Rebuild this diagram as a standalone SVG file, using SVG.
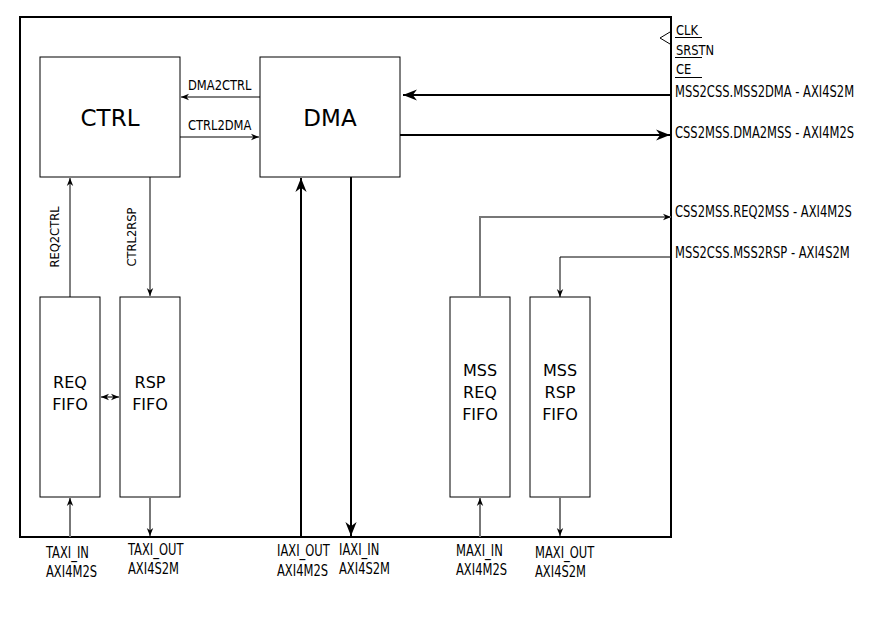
<svg xmlns="http://www.w3.org/2000/svg" width="886" height="638" viewBox="0 0 886 638">
<style>
.box{fill:#fff;stroke:#000;stroke-width:1}
.lbl{font-family:"DejaVu Sans Condensed","DejaVu Sans",sans-serif;font-size:12.8px;fill:#000}
.big{font-family:"DejaVu Sans",sans-serif;font-size:23px;fill:#000;text-anchor:middle}
.mid{font-family:"DejaVu Sans",sans-serif;font-size:16px;fill:#000;text-anchor:middle}
.thin{stroke:#000;stroke-width:1;fill:none}
.gray{stroke:#777;stroke-width:2;fill:none}
.thick{stroke:#000;stroke-width:2;fill:none}
</style>
<defs>
<marker id="a" viewBox="0 0 10 10" refX="10" refY="5" markerWidth="8" markerHeight="8" markerUnits="userSpaceOnUse" orient="auto-start-reverse"><path d="M0,1 L10,5 L0,9 L3,5 z" fill="#000"/></marker>
<marker id="b" viewBox="0 0 10 10" refX="10" refY="5" markerWidth="14" markerHeight="14" markerUnits="userSpaceOnUse" orient="auto-start-reverse"><path d="M0,1 L10,5 L0,9 L3,5 z" fill="#000"/></marker>
</defs>
<rect width="886" height="638" fill="#fff"/>
<g id="frame"><rect x="20" y="17" width="651" height="520" fill="none" stroke="#000" stroke-width="2"/></g>
<g id="ctrl"><rect class="box" x="40" y="57" width="140" height="120"/><text class="big" x="110" y="126">CTRL</text></g>
<g id="dma"><rect class="box" x="260" y="57" width="140" height="120"/><text class="big" x="330" y="126">DMA</text></g>
<g id="reqfifo"><rect class="box" x="40" y="297" width="60" height="200"/><text class="mid" x="70" y="388">REQ</text><text class="mid" x="70" y="410">FIFO</text></g>
<g id="rspfifo"><rect class="box" x="120" y="297" width="60" height="200"/><text class="mid" x="150" y="388">RSP</text><text class="mid" x="150" y="410">FIFO</text></g>
<g id="mssreqfifo"><rect class="box" x="450" y="297" width="60" height="200"/><text class="mid" x="480" y="376">MSS</text><text class="mid" x="480" y="398">REQ</text><text class="mid" x="480" y="420">FIFO</text></g>
<g id="mssrspfifo"><rect class="box" x="530" y="297" width="60" height="200"/><text class="mid" x="560" y="376">MSS</text><text class="mid" x="560" y="398">RSP</text><text class="mid" x="560" y="420">FIFO</text></g>
<g id="connectors">
<line class="thin" x1="260" y1="97" x2="181" y2="97" marker-end="url(#a)"/>
<line class="thin" x1="180" y1="137" x2="259" y2="137" marker-end="url(#a)"/>
<line class="thick" x1="671" y1="95" x2="403" y2="95" marker-end="url(#b)"/>
<line class="thick" x1="400" y1="135" x2="670" y2="135" marker-end="url(#b)"/>
<polyline class="gray" points="480,297 480,217 671,217" stroke-width="1" marker-end="url(#a)"/>
<polyline class="thin" points="671,257 560,257 560,297" marker-end="url(#a)"/>
<line class="thin" x1="70" y1="297" x2="70" y2="178" marker-end="url(#a)"/>
<line class="thin" x1="150" y1="177" x2="150" y2="296" marker-end="url(#a)"/>
<line class="gray" x1="101" y1="397" x2="119" y2="397" stroke-width="1" marker-start="url(#a)" marker-end="url(#a)"/>
<line class="gray" x1="70" y1="537" x2="70" y2="498" marker-end="url(#a)"/>
<line class="gray" x1="150" y1="497" x2="150" y2="536" marker-end="url(#a)"/>
<line class="thick" x1="301" y1="537" x2="301" y2="178" marker-end="url(#b)"/>
<line class="thick" x1="351" y1="177" x2="351" y2="536" marker-end="url(#b)"/>
<line class="gray" x1="480" y1="537" x2="480" y2="498" marker-end="url(#a)"/>
<line class="gray" x1="560" y1="497" x2="560" y2="536" marker-end="url(#a)"/>
<polyline class="thin" points="670,32 660,38 670,44"/>
<line class="thin" x1="675" y1="37.5" x2="702" y2="37.5" stroke="#555"/>
<line class="thin" x1="675" y1="57.5" x2="702" y2="57.5" stroke="#555"/>
<line class="thin" x1="675" y1="77.5" x2="702" y2="77.5" stroke="#555"/>
</g>
<g id="labels">
<text class="lbl" transform="translate(188,90) scale(1,1.1)">DMA2CTRL</text>
<text class="lbl" transform="translate(188,130) scale(1,1.1)">CTRL2DMA</text>
<text class="lbl" transform="translate(59,237) rotate(-90)" text-anchor="middle">REQ2CTRL</text>
<text class="lbl" transform="translate(136,237) rotate(-90)" text-anchor="middle">CTRL2RSP</text>
<text class="lbl" transform="translate(676,35) scale(1,1.1)">CLK</text>
<text class="lbl" transform="translate(676,55) scale(1,1.1)">SRSTN</text>
<text class="lbl" transform="translate(676,74) scale(1,1.1)">CE</text>
<text class="lbl" transform="translate(675,97) scale(1,1.3)">MSS2CSS.MSS2DMA - AXI4S2M</text>
<text class="lbl" transform="translate(675,138) scale(1,1.3)">CSS2MSS.DMA2MSS - AXI4M2S</text>
<text class="lbl" transform="translate(675,217) scale(1,1.3)">CSS2MSS.REQ2MSS - AXI4M2S</text>
<text class="lbl" transform="translate(675,258) scale(1,1.3)">MSS2CSS.MSS2RSP - AXI4S2M</text>
<text class="lbl" transform="translate(46,558) scale(1,1.3)">TAXI_IN</text>
<text class="lbl" transform="translate(46,577) scale(1,1.3)">AXI4M2S</text>
<text class="lbl" transform="translate(128,555) scale(1,1.3)">TAXI_OUT</text>
<text class="lbl" transform="translate(128,574) scale(1,1.3)">AXI4S2M</text>
<text class="lbl" transform="translate(277,556) scale(1,1.3)">IAXI_OUT</text>
<text class="lbl" transform="translate(277,576) scale(1,1.3)">AXI4M2S</text>
<text class="lbl" transform="translate(339,555) scale(1,1.3)">IAXI_IN</text>
<text class="lbl" transform="translate(339,574) scale(1,1.3)">AXI4S2M</text>
<text class="lbl" transform="translate(456,556) scale(1,1.3)">MAXI_IN</text>
<text class="lbl" transform="translate(456,575) scale(1,1.3)">AXI4M2S</text>
<text class="lbl" transform="translate(535,558) scale(1,1.3)">MAXI_OUT</text>
<text class="lbl" transform="translate(535,577) scale(1,1.3)">AXI4S2M</text>
</g>
</svg>
